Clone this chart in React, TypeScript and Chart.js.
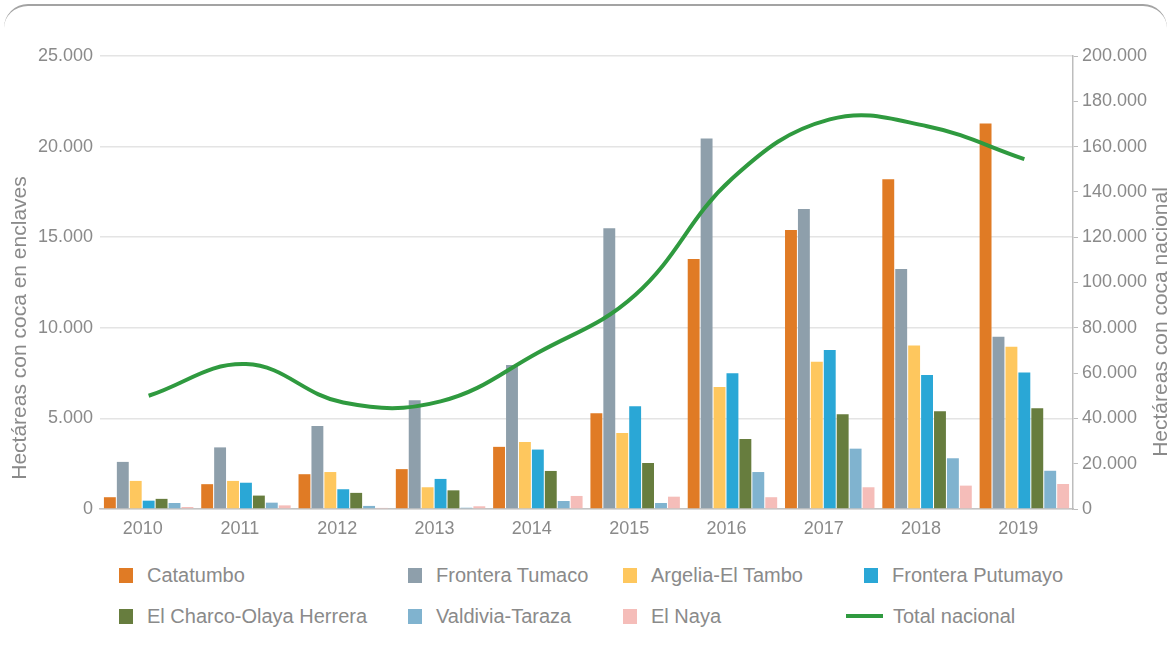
import React, { useEffect, useRef } from "react";
import { Chart, registerables } from "chart.js";

Chart.register(...registerables);

const years = ["2010", "2011", "2012", "2013", "2014", "2015", "2016", "2017", "2018", "2019"];
const catatumbo = [650, 1370, 1920, 2200, 3430, 5280, 13800, 15400, 18200, 21270];
const fronteraTumaco = [2600, 3400, 4580, 6000, 7950, 15500, 20450, 16550, 13250, 9510];
const argeliaElTambo = [1550, 1550, 2040, 1200, 3700, 4200, 6730, 8130, 9030, 8960];
const fronteraPutumayo = [460, 1450, 1090, 1660, 3280, 5670, 7490, 8780, 7400, 7530];
const elCharcoOlaya = [560, 740, 890, 1030, 2100, 2540, 3860, 5230, 5400, 5560];
const valdiviaTaraza = [330, 350, 170, 70, 440, 330, 2040, 3330, 2800, 2110];
const elNaya = [110, 200, 60, 150, 720, 680, 650, 1200, 1290, 1380];
const totalNacional = [50000, 64000, 47000, 47500, 69000, 94500, 146000, 172000, 169000, 154500];

const leftTitle = "Hectáreas con coca en enclaves";
const rightTitle = "Hectáreas con coca nacional";

const barSeries = [
  { label: "Catatumbo", data: catatumbo, color: "#e07b25" },
  { label: "Frontera Tumaco", data: fronteraTumaco, color: "#8e9fab" },
  { label: "Argelia-El Tambo", data: argeliaElTambo, color: "#fec75e" },
  { label: "Frontera Putumayo", data: fronteraPutumayo, color: "#2aa7d6" },
  { label: "El Charco-Olaya Herrera", data: elCharcoOlaya, color: "#677d3e" },
  { label: "Valdivia-Taraza", data: valdiviaTaraza, color: "#80b3cf" },
  { label: "El Naya", data: elNaya, color: "#f5bdb9" },
];
const lineSeries = { label: "Total nacional", data: totalNacional, color: "#2f9a3f" };

const FONT = '"Liberation Sans", Arial, Helvetica, sans-serif';
const TEXT = "#8a8a8a";

// layout (pixels)
const W = 1173;
const CANVAS_H = 545;
const AREA_LEFT = 100;
const AREA_RIGHT = 1073;
const AREA_TOP = 56;
const AREA_BOTTOM = 509;
const legendColX = [119, 408, 623, 864];
const legendRowY = [575, 616];

const fmt = (v: number) => String(v).replace(/\B(?=(\d{3})+(?!\d))/g, ".");

const titlePlugin = {
  id: "axisTitles",
  afterDraw(chart: any) {
    const ctx = chart.ctx;
    ctx.save();
    ctx.font = `21px ${FONT}`;
    ctx.fillStyle = TEXT;
    ctx.textAlign = "center";
    ctx.textBaseline = "middle";
    ctx.translate(20, 328);
    ctx.rotate(-Math.PI / 2);
    ctx.fillText(leftTitle, 0, 0);
    ctx.restore();
    ctx.save();
    ctx.font = `21px ${FONT}`;
    ctx.fillStyle = TEXT;
    ctx.textAlign = "center";
    ctx.textBaseline = "middle";
    ctx.translate(1161, 322);
    ctx.rotate(-Math.PI / 2);
    ctx.fillText(rightTitle, 0, 0);
    ctx.restore();
  },
};

export default function App() {
  const ref = useRef<HTMLCanvasElement | null>(null);

  useEffect(() => {
    if (!ref.current) return;
    const datasets: any[] = [
      {
        type: "line",
        label: lineSeries.label,
        data: lineSeries.data,
        borderColor: lineSeries.color,
        backgroundColor: lineSeries.color,
        borderWidth: 4,
        pointRadius: 0,
        tension: 0.4,
        yAxisID: "y1",
        order: 0,
      },
      ...barSeries.map((s) => ({
        type: "bar",
        label: s.label,
        data: s.data,
        backgroundColor: s.color,
        borderWidth: 0,
        yAxisID: "y",
        barPercentage: 0.92,
        categoryPercentage: 0.93,
        order: 1,
      })),
    ];
    const chart = new Chart(ref.current, {
      type: "bar",
      data: { labels: years, datasets },
      options: {
        animation: false,
        responsive: false,
        devicePixelRatio: 1,
        layout: { padding: { top: AREA_TOP, left: 0, right: 0, bottom: 0 } },
        plugins: { legend: { display: false }, tooltip: { enabled: false } },
        scales: {
          x: {
            grid: { display: false, drawTicks: false },
            border: { display: true, color: "#c4c4c4", width: 1.5 },
            ticks: { color: TEXT, font: { family: FONT, size: 18 }, padding: 9, labelOffset: -6 },
            afterFit: (s: any) => {
              s.height = CANVAS_H - AREA_BOTTOM;
            },
          },
          y: {
            position: "left",
            min: 0,
            max: 25000,
            ticks: { stepSize: 5000, color: TEXT, font: { family: FONT, size: 18 }, padding: 7, callback: (v: any) => fmt(Number(v)) },
            grid: { color: "#e4e4e4", lineWidth: 1.5, drawTicks: false },
            border: { display: false },
            afterFit: (s: any) => {
              s.width = AREA_LEFT;
            },
          },
          y1: {
            position: "right",
            min: 0,
            max: 200000,
            ticks: { stepSize: 20000, color: TEXT, font: { family: FONT, size: 18 }, padding: 4, callback: (v: any) => fmt(Number(v)) },
            grid: { drawOnChartArea: false, drawTicks: true, tickLength: 5, color: "#bdbdbd" },
            border: { display: true, color: "#bdbdbd", width: 1.5 },
            afterFit: (s: any) => {
              s.width = W - AREA_RIGHT;
            },
          },
        },
      },
      plugins: [titlePlugin],
    } as any);
    return () => chart.destroy();
  }, []);

  const legendItems = [...barSeries.map((s) => ({ label: s.label, color: s.color, line: false })), { label: lineSeries.label, color: lineSeries.color, line: true }];

  return (
    <div style={{ position: "absolute", left: 0, top: 0, width: W, height: 665, background: "#fff", overflow: "hidden", fontFamily: FONT }}>
      <div
        style={{
          position: "absolute",
          left: 4,
          top: 4,
          width: W - 10,
          height: 680,
          borderTop: "2px solid #a3a3a3",
          borderRadius: 24,
          boxSizing: "border-box",
        }}
      />
      <canvas ref={ref} width={W} height={CANVAS_H} style={{ position: "absolute", left: 0, top: 0, width: W, height: CANVAS_H }} />
      {legendItems.map((it, i) => {
        const col = i % 4;
        const row = Math.floor(i / 4);
        const x = legendColX[col];
        const y = legendRowY[row];
        return (
          <div key={it.label} style={{ position: "absolute", left: it.line ? x - 18 : x, top: y - 13, height: 26, display: "flex", alignItems: "center", whiteSpace: "nowrap" }}>
            {it.line ? (
              <span style={{ display: "inline-block", width: 37, height: 4, background: it.color, marginRight: 10 }} />
            ) : (
              <span style={{ display: "inline-block", width: 14, height: 15, background: it.color, marginRight: 14 }} />
            )}
            <span style={{ fontSize: 20, color: TEXT }}>{it.label}</span>
          </div>
        );
      })}
    </div>
  );
}
